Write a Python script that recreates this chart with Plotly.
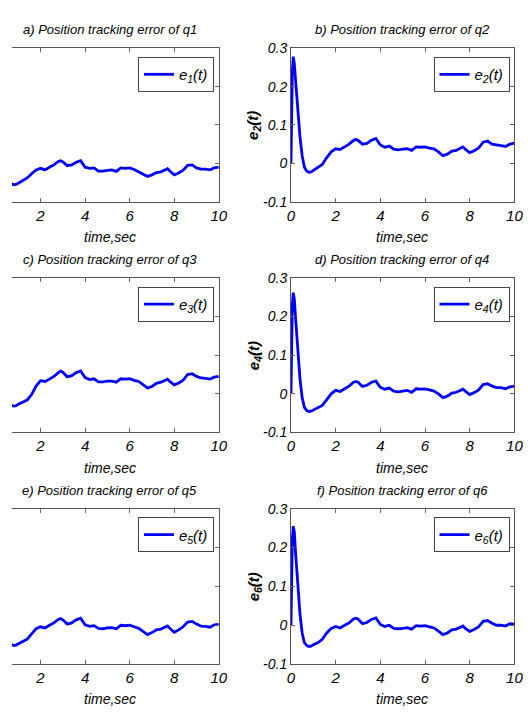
import plotly.graph_objects as go

# ---------------- data ----------------
t = [0, 0.03, 0.06, 0.1, 0.15, 0.2, 0.3, 0.4, 0.5, 0.6, 0.7, 0.8, 0.9, 1.0,
     1.2, 1.4, 1.6, 1.8, 2.0, 2.2, 2.4, 2.6, 2.8, 2.9, 3.0, 3.2, 3.4, 3.6, 3.8,
     4.0, 4.2, 4.4, 4.6, 4.8, 5.0, 5.2, 5.4, 5.6, 5.8, 6.0, 6.2, 6.4, 6.6, 6.8,
     7.0, 7.2, 7.4, 7.6, 7.7, 7.8, 8.0, 8.2, 8.4, 8.6, 8.8, 9.0, 9.2, 9.4, 9.6,
     9.8, 10.0]

e1 = [0, 0.12, 0.21, 0.24, 0.22, 0.18, 0.10, 0.03, -0.02, -0.045, -0.053, -0.056, -0.055, -0.052,
      -0.046, -0.038, -0.027, -0.017, -0.013, -0.017, -0.010, -0.004, 0.005, 0.007, 0.004, -0.006, -0.004, 0.003, 0.007,
      -0.010, -0.013, -0.012, -0.020, -0.020, -0.018, -0.017, -0.021, -0.012, -0.013, -0.012, -0.016, -0.022, -0.028, -0.034,
      -0.030, -0.024, -0.022, -0.016, -0.014, -0.020, -0.030, -0.025, -0.018, -0.005, -0.004, -0.012, -0.015, -0.015, -0.017,
      -0.012, -0.010]

e2 = [0, 0.14, 0.24, 0.278, 0.26, 0.22, 0.14, 0.07, 0.02, -0.01, -0.02, -0.023, -0.022, -0.018,
      -0.010, -0.003, 0.015, 0.030, 0.038, 0.036, 0.043, 0.050, 0.060, 0.062, 0.060, 0.050, 0.052, 0.060, 0.065,
      0.048, 0.042, 0.045, 0.037, 0.035, 0.037, 0.038, 0.034, 0.043, 0.042, 0.043, 0.040, 0.038, 0.030, 0.020,
      0.024, 0.032, 0.034, 0.040, 0.043, 0.037, 0.028, 0.033, 0.040, 0.055, 0.058, 0.050, 0.047, 0.046, 0.044,
      0.050, 0.053]

e3 = [0, 0.13, 0.22, 0.26, 0.24, 0.20, 0.12, 0.05, 0.0, -0.022, -0.030, -0.032, -0.031, -0.027,
      -0.022, -0.016, -0.002, 0.020, 0.034, 0.032, 0.038, 0.045, 0.055, 0.059, 0.056, 0.044, 0.047, 0.055, 0.059,
      0.042, 0.037, 0.039, 0.031, 0.031, 0.033, 0.033, 0.030, 0.039, 0.038, 0.039, 0.035, 0.032, 0.024, 0.015,
      0.019, 0.027, 0.030, 0.036, 0.038, 0.032, 0.023, 0.028, 0.035, 0.050, 0.052, 0.045, 0.041, 0.040, 0.038,
      0.043, 0.045]

e4 = [0, 0.13, 0.23, 0.262, 0.245, 0.20, 0.11, 0.04, -0.01, -0.035, -0.043, -0.046, -0.045, -0.042,
      -0.036, -0.030, -0.015, 0.0, 0.009, 0.006, 0.013, 0.020, 0.030, 0.032, 0.030, 0.019, 0.022, 0.030, 0.033,
      0.017, 0.012, 0.015, 0.007, 0.005, 0.007, 0.009, 0.004, 0.013, 0.012, 0.013, 0.010, 0.007, 0.0, -0.010,
      -0.006, 0.002, 0.004, 0.010, 0.012, 0.007, -0.002, 0.003, 0.010, 0.024, 0.026, 0.020, 0.016, 0.016, 0.013,
      0.018, 0.020]

e5 = [0, 0.12, 0.20, 0.24, 0.22, 0.17, 0.09, 0.02, -0.025, -0.044, -0.050, -0.052, -0.051, -0.048,
      -0.043, -0.036, -0.022, -0.009, -0.004, -0.007, 0.0, 0.006, 0.015, 0.017, 0.014, 0.003, 0.006, 0.014, 0.018,
      0.001, -0.003, -0.001, -0.008, -0.009, -0.007, -0.006, -0.009, 0.0, -0.001, 0.0, -0.004, -0.008, -0.016, -0.024,
      -0.019, -0.012, -0.010, -0.004, -0.002, -0.008, -0.018, -0.012, -0.004, 0.008, 0.010, 0.003, -0.002, -0.003, -0.005,
      0.001, 0.002]

e6 = [0, 0.13, 0.22, 0.255, 0.24, 0.19, 0.10, 0.03, -0.02, -0.045, -0.052, -0.055, -0.054, -0.050,
      -0.045, -0.036, -0.020, -0.008, -0.003, -0.007, 0.0, 0.006, 0.016, 0.018, 0.016, 0.004, 0.007, 0.015, 0.019,
      0.002, -0.003, 0.0, -0.008, -0.009, -0.008, -0.006, -0.010, -0.001, -0.002, -0.001, -0.004, -0.007, -0.015, -0.024,
      -0.020, -0.012, -0.010, -0.004, -0.002, -0.008, -0.016, -0.011, -0.004, 0.010, 0.012, 0.005, 0.0, 0.0, -0.002,
      0.004, 0.003]

series = [e1, e2, e3, e4, e5, e6]
names = ["e<sub>1</sub>(t)", "e<sub>2</sub>(t)", "e<sub>3</sub>(t)",
         "e<sub>4</sub>(t)", "e<sub>5</sub>(t)", "e<sub>6</sub>(t)"]
titles = ["a) Position tracking error of q1", "b) Position tracking error of q2",
          "c) Position tracking error of q3", "d) Position tracking error of q4",
          "e) Position tracking error of q5", "f) Position tracking error of q6"]
x_ticks = [0, 2, 4, 6, 8, 10]
y_ticks = [-0.1, 0, 0.1, 0.2, 0.3]
y_ticktext = ["-0.1", "0", "0.1", "0.2", "0.3"]
x_label = "time,sec"

# ---------------- layout geometry (pixels) ----------------
W, H = 531, 712
FONT = "Liberation Sans, Arial"
left_px = (0, 212)
right_px = (286, 515)
rows_px = [(33, 190), (268, 426), (504, 663)]

def px_x(p):
    return p / W

def px_y(p):
    return 1 - p / H

fig = go.Figure()
layout = dict(
    width=W, height=H,
    margin=dict(l=0, r=0, t=0, b=0),
    paper_bgcolor="white", plot_bgcolor="white",
    font=dict(family=FONT, size=13, color="black", style="italic"),
    showlegend=True,
)
annotations = []

for i in range(6):
    row, col = divmod(i, 2)
    k = i + 1
    xs = "" if k == 1 else str(k)
    xa, ya = "xaxis" + xs, "yaxis" + xs
    lg = "legend" + xs
    cx = left_px if col == 0 else right_px
    ry = rows_px[row]

    fig.add_trace(go.Scatter(
        x=t, y=series[i], mode="lines", name=names[i],
        line=dict(color="#0000ff", width=2.8),
        xaxis="x" + xs, yaxis="y" + xs, legend=lg,
    ))

    layout[xa] = dict(
        domain=[px_x(cx[0]), px_x(cx[1])],
        range=[0.72, 10] if col == 0 else [0, 10],
        anchor="y" + xs,
        tickvals=x_ticks, ticks="inside", ticklen=4, tickcolor="#666",
        showline=True, linecolor="#555", linewidth=1, mirror="ticks",
        showgrid=False, zeroline=False,
        tickfont=dict(family=FONT, size=15, style="italic", color="black"),
    )
    ydict = dict(
        domain=[px_y(ry[1]), px_y(ry[0])],
        range=[-0.1, 0.3], anchor="x" + xs,
        tickvals=y_ticks, ticktext=y_ticktext,
        ticks="inside", ticklen=4, tickcolor="#666",
        showline=True, linecolor="#555", linewidth=1,
        showgrid=False, zeroline=False,
        tickfont=dict(family=FONT, size=14, style="italic", color="black"),
    )
    if col == 0:
        ydict.update(side="right", showticklabels=False)
    else:
        ydict.update(mirror="ticks")
    layout[ya] = ydict

    leg_right = 207 if col == 0 else 510
    leg_top = ry[0] + 9
    layout[lg] = dict(
        x=px_x(leg_right), y=px_y(leg_top), xanchor="right", yanchor="top",
        xref="paper", yref="paper",
        bgcolor="white", bordercolor="#444", borderwidth=1,
        font=dict(family=FONT, size=15, style="italic", color="black"),
        itemwidth=30,
    )

    ccenter = 100 if col == 0 else 400
    annotations.append(dict(
        text=titles[i], x=px_x(ccenter), y=px_y(ry[0] - 19),
        xref="paper", yref="paper", showarrow=False,
        xanchor="center", yanchor="middle",
        font=dict(family=FONT, size=13, style="italic", color="black"),
    ))
    annotations.append(dict(
        text=x_label, x=px_x(ccenter), y=px_y(ry[1] + 36),
        xref="paper", yref="paper", showarrow=False,
        xanchor="center", yanchor="middle",
        font=dict(family=FONT, size=14, style="italic", color="black"),
    ))
    if col == 1:
        annotations.append(dict(
            text="<b>" + names[i] + "</b>", x=px_x(248), y=px_y((ry[0] + ry[1]) / 2),
            xref="paper", yref="paper", showarrow=False, textangle=-90,
            xanchor="center", yanchor="middle",
            font=dict(family=FONT, size=15, style="italic", color="black"),
        ))

layout["annotations"] = annotations
fig.update_layout(**layout)
fig.write_html("out.html")
